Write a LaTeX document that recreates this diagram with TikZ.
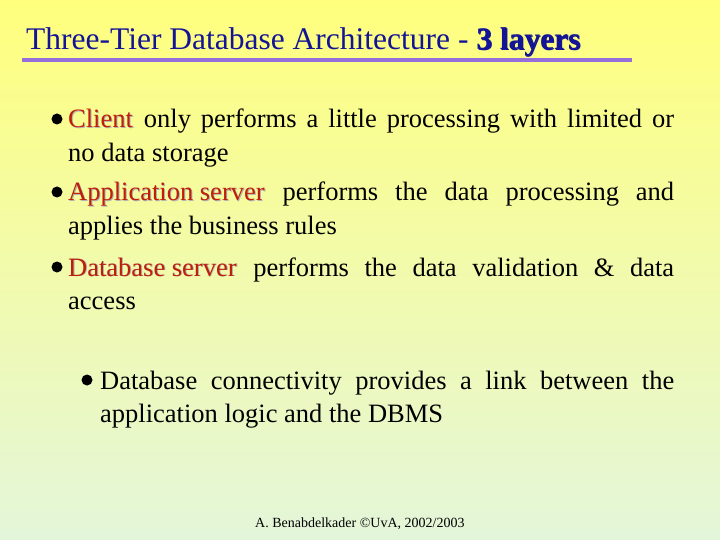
\documentclass[tikz,border=0pt]{standalone}
\usepackage{fontspec}
\setmainfont{Liberation Serif}
\usetikzlibrary{positioning}
\definecolor{titleblue}{RGB}{20,20,150}
\definecolor{rulepurple}{RGB}{150,110,220}
\definecolor{termred}{RGB}{190,30,10}
\definecolor{topyellow}{RGB}{255,255,125}
\definecolor{bottomgreen}{RGB}{228,246,218}
\newcommand{\term}[1]{\tikz[baseline=(t.base)]{\node[inner sep=0pt,text=gray!60,xshift=1pt,yshift=-1pt] {#1};\node[inner sep=0pt,text=termred] (t) {#1};}}
\begin{document}
\begin{tikzpicture}[x=1pt,y=-1pt,
  para/.style={anchor=base west,inner sep=0pt,align=justify,font=\fontsize{26.5}{33.5}\selectfont},
  dot/.style={circle,fill=black,inner sep=0pt,minimum size=11pt}]

\shade[top color=topyellow,bottom color=bottomgreen] (0,0) rectangle (720,540);
\useasboundingbox (0,0) rectangle (720,540);

% title
\node[anchor=base west,inner sep=0pt,text=titleblue,font=\fontsize{31.5}{34}\selectfont] (title) at (26,50)
  {Three-Tier Database Architecture - \textbf{\term{\color{titleblue}3 layers}}};
\draw[rulepurple,line width=4pt] (22,60) -- (632,60);

% bullets
\node[para,text width=606pt] (client) at (68,128)
  {\term{Client} only performs a little processing with limited or\linebreak no data storage};
\node[para,text width=606pt] (appl) at (68,201)
  {\term{Application server} performs the data processing and\linebreak applies the business rules};
\node[para,text width=606pt] (dbase) at (68,276)
  {\term{Database server} performs the data validation \& data\linebreak access};
\node[dot] at (57,119) {};
\node[dot] at (57,192) {};
\node[dot] at (57,267) {};

\node[para,text width=574pt] (conn) at (100,389)
  {Database connectivity provides a link between the\linebreak application logic and the DBMS};
\node[dot] at (87,380) {};

% footer
\node[anchor=base west,inner sep=0pt,font=\fontsize{14}{16}\selectfont] (foot) at (255,527)
  {A. Benabdelkader \textcopyright UvA, 2002/2003};
\end{tikzpicture}
\end{document}
